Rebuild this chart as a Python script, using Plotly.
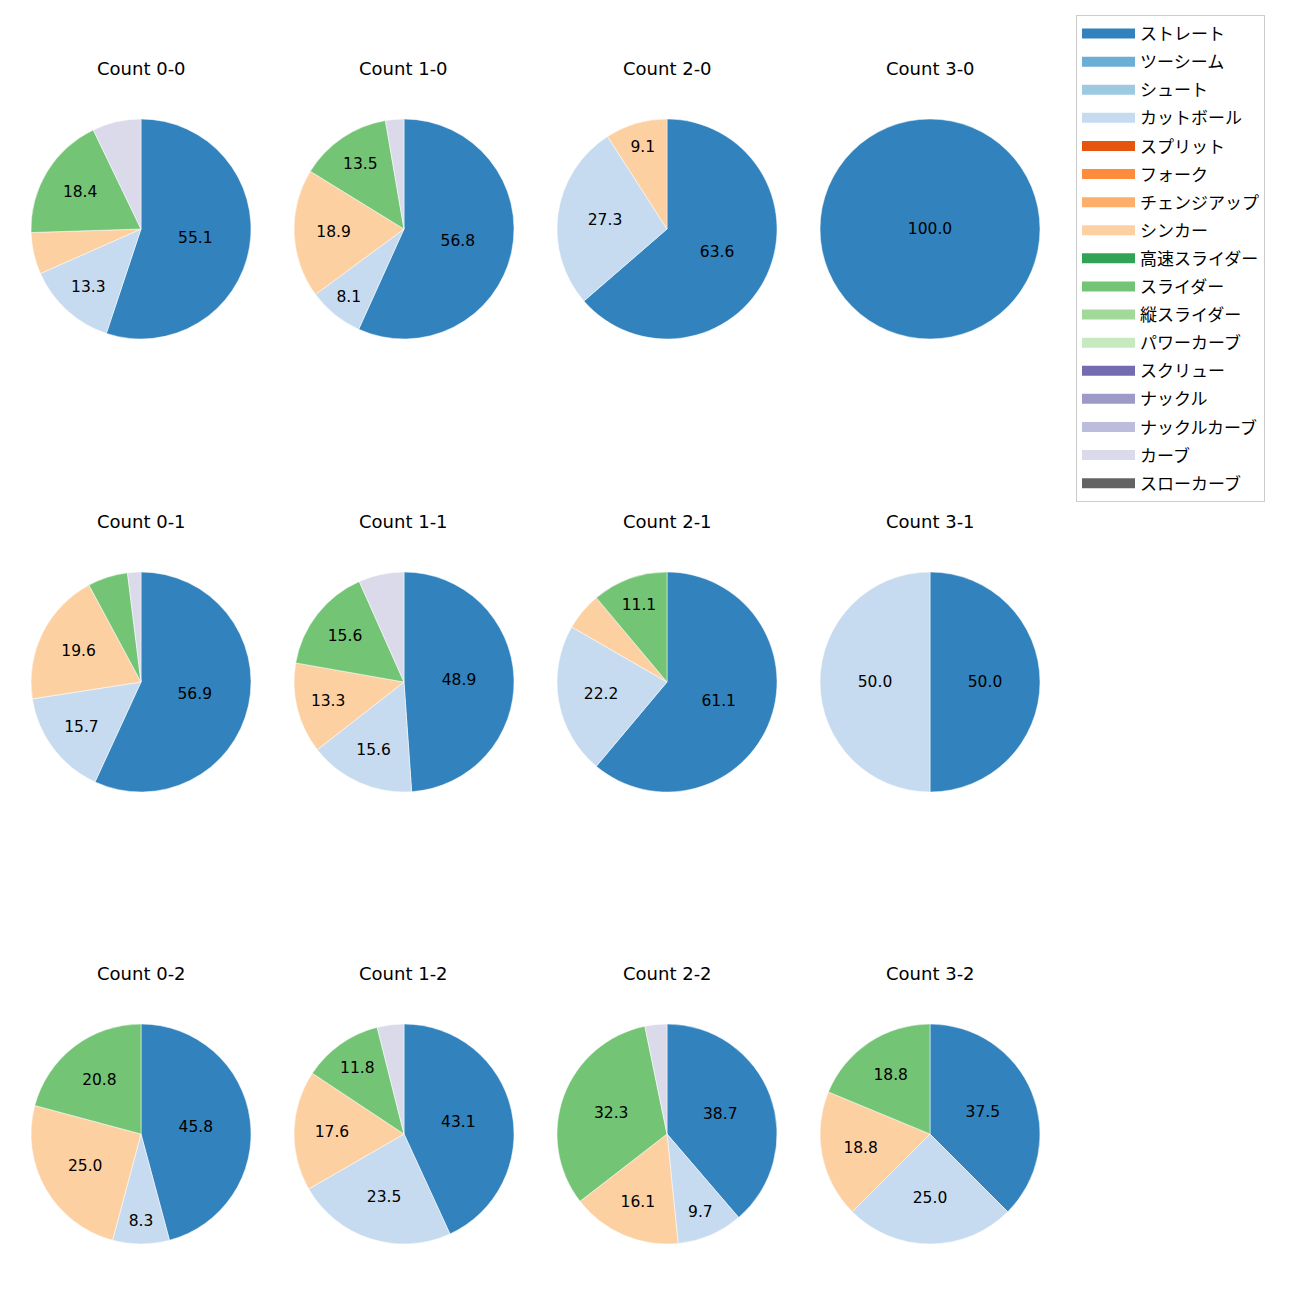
import plotly.graph_objects as go

# ---- data ----
pitch_types = ["ストレート", "ツーシーム", "シュート", "カットボール", "スプリット", "フォーク",
               "チェンジアップ", "シンカー", "高速スライダー", "スライダー", "縦スライダー",
               "パワーカーブ", "スクリュー", "ナックル", "ナックルカーブ", "カーブ", "スローカーブ"]
pitch_colors = ["#3182bd", "#6baed6", "#9ecae1", "#c6dbef", "#e6550d", "#fd8d3c",
                "#fdae6b", "#fdd0a2", "#31a354", "#74c476", "#a1d99b",
                "#c7e9c0", "#756bb1", "#9e9ac8", "#bcbddc", "#dadaeb", "#636363"]

count_names = ["0-0", "1-0", "2-0", "3-0",
               "0-1", "1-1", "2-1", "3-1",
               "0-2", "1-2", "2-2", "3-2"]

# pitch counts per ball-strike count
straight = [54, 21, 7, 1, 29, 22, 11, 1, 11, 22, 12, 6]
cutball  = [13, 3, 3, 0, 8, 7, 4, 1, 2, 12, 3, 4]
sinker   = [6, 7, 1, 0, 10, 6, 1, 0, 6, 9, 5, 3]
slider   = [18, 5, 0, 0, 3, 7, 2, 0, 5, 6, 10, 3]
curve    = [7, 1, 0, 0, 1, 3, 0, 0, 0, 2, 1, 0]

series = {
    "ストレート": straight,
    "カットボール": cutball,
    "シンカー": sinker,
    "スライダー": slider,
    "カーブ": curve,
}
LABEL_MIN_PCT = 7.5

W = H = 1300
LATIN = "DejaVu Sans, Noto Sans CJK JP"
CJK = "Noto Sans CJK JP"
color_of = dict(zip(pitch_types, pitch_colors))

fig = go.Figure()

col_cx = [141, 404, 667, 930]
row_cy = [229, 682, 1134]
title_y = [69, 521, 973]
R = 110

for i, cname in enumerate(count_names):
    r, c = divmod(i, 4)
    labels, values, texts, cols = [], [], [], []
    total = sum(series[p][i] for p in series)
    for p in series:
        v = series[p][i]
        if v > 0:
            labels.append(p)
            values.append(v)
            pct = 100.0 * v / total
            texts.append(f"{pct:.1f}" if pct >= LABEL_MIN_PCT else "")
            cols.append(color_of[p])
    cx, cy = col_cx[c], row_cy[r]
    fig.add_trace(go.Pie(
        labels=labels, values=values, text=texts,
        textinfo="text", textposition="inside",
        insidetextorientation="horizontal",
        insidetextfont=dict(family=LATIN, size=15.5, color="black"),
        marker=dict(colors=cols, line=dict(color="white", width=0.5)),
        sort=False, direction="clockwise", rotation=0,
        showlegend=False, hoverinfo="label+value+percent",
        domain=dict(x=[(cx - R) / W, (cx + R) / W],
                    y=[1 - (cy + R) / H, 1 - (cy - R) / H]),
    ))
    fig.add_annotation(
        text=f"Count {cname}", x=cx / W, y=1 - title_y[r] / H,
        xref="paper", yref="paper", xanchor="center", yanchor="middle",
        showarrow=False, font=dict(family=LATIN, size=18, color="black"),
    )

# legend entries
for p, col in zip(pitch_types, pitch_colors):
    fig.add_trace(go.Scatter(
        x=[None], y=[None], mode="lines", name=p, legendgroup=p,
        line=dict(color=col, width=13), showlegend=True, hoverinfo="skip",
    ))

fig.update_layout(
    width=W, height=H,
    margin=dict(l=0, r=0, t=0, b=0),
    paper_bgcolor="white", plot_bgcolor="white",
    xaxis=dict(visible=False), yaxis=dict(visible=False),
    uniformtext=dict(minsize=15.5, mode="show"),
    font=dict(family=LATIN),
    legend=dict(
        x=1076 / W, y=1 - 15 / H, xanchor="left", yanchor="top",
        bgcolor="white", bordercolor="#cccccc", borderwidth=1,
        font=dict(family=CJK, size=17, color="black"),
        traceorder="grouped", tracegroupgap=3, itemwidth=53,
    ),
)

fig.write_html("out.html")
